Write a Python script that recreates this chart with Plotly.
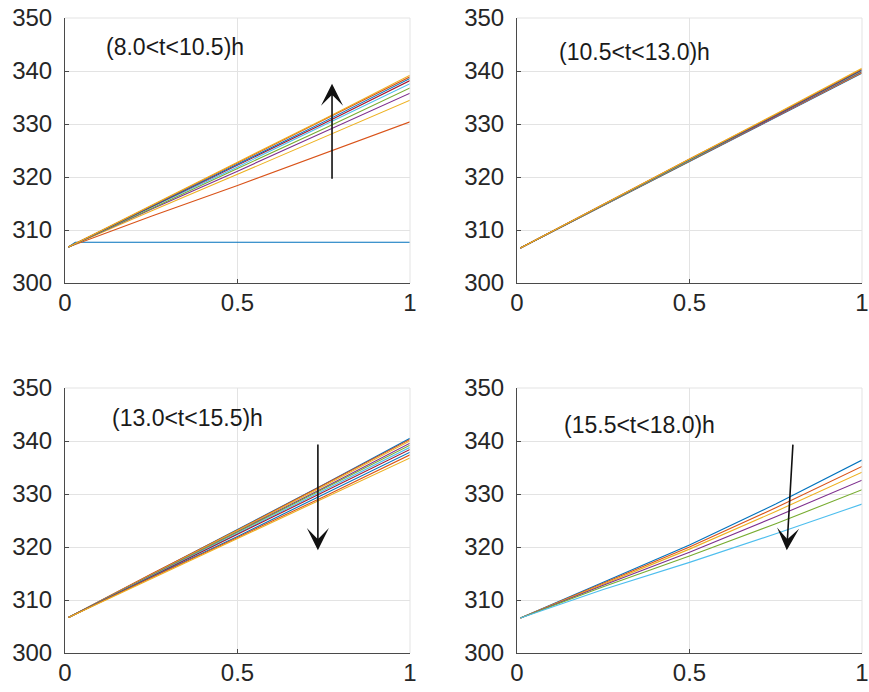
import plotly.graph_objects as go

# MATLAB default colour order
C_BLUE = "#0072BD"
C_RED = "#D95319"
C_YEL = "#EDB120"
C_PUR = "#7E2F8E"
C_GRN = "#77AC30"
C_CYN = "#4DBEEE"
C_DRD = "#A2142F"
colour_order = [C_BLUE, C_RED, C_YEL, C_PUR, C_GRN, C_CYN, C_DRD]

x_pts = [0.01, 0.25, 0.5, 0.75, 1.0]

# Panel 1: (8.0<t<10.5)h
p1_flat_x = [0.01, 0.03, 1.0]
p1_flat_y = [306.8, 307.7, 307.7]
p1_lines = [
    [306.8, 312.6, 318.4, 324.4, 330.4],
    [306.8, 313.6, 320.5, 327.5, 334.5],
    [306.8, 313.9, 321.1, 328.4, 335.8],
    [306.8, 314.1, 321.6, 329.1, 336.8],
    [306.8, 314.3, 321.9, 329.7, 337.6],
    [306.8, 314.4, 322.2, 330.1, 338.2],
    [306.8, 314.5, 322.4, 330.4, 338.6],
    [306.8, 314.6, 322.6, 330.7, 338.9],
    [306.8, 314.7, 322.8, 330.9, 339.2],
]

# Panel 2: (10.5<t<13.0)h
p2_lines = [
    [306.6, 314.6, 323.0, 331.2, 339.6],
    [306.6, 314.6, 323.0, 331.3, 339.7],
    [306.6, 314.7, 323.1, 331.4, 339.8],
    [306.6, 314.7, 323.1, 331.4, 339.9],
    [306.6, 314.7, 323.2, 331.5, 340.0],
    [306.6, 314.8, 323.2, 331.6, 340.1],
    [306.6, 314.8, 323.3, 331.6, 340.2],
    [306.6, 314.8, 323.3, 331.7, 340.3],
    [306.6, 314.9, 323.4, 331.8, 340.4],
    [306.6, 314.9, 323.4, 331.9, 340.5],
]

# Panel 3: (13.0<t<15.5)h
p3_lines = [
    [306.7, 314.9, 323.3, 331.8, 340.5],
    [306.7, 314.9, 323.2, 331.7, 340.3],
    [306.7, 314.8, 323.1, 331.5, 340.0],
    [306.7, 314.7, 322.9, 331.2, 339.6],
    [306.7, 314.6, 322.7, 330.9, 339.2],
    [306.7, 314.5, 322.5, 330.6, 338.8],
    [306.7, 314.4, 322.3, 330.3, 338.4],
    [306.7, 314.3, 322.0, 329.9, 337.9],
    [306.7, 314.2, 321.8, 329.5, 337.4],
    [306.7, 314.0, 321.5, 329.1, 336.8],
]

# Panel 4: (15.5<t<18.0)h
p4_lines = [
    [306.6, 313.3, 320.4, 328.1, 336.4],
    [306.6, 313.2, 320.0, 327.4, 335.2],
    [306.6, 313.0, 319.6, 326.7, 334.1],
    [306.6, 312.8, 319.0, 325.7, 332.6],
    [306.6, 312.5, 318.3, 324.4, 330.8],
    [306.6, 312.0, 317.1, 322.5, 328.1],
]

panel_labels = ["(8.0<t<10.5)h", "(10.5<t<13.0)h", "(13.0<t<15.5)h", "(15.5<t<18.0)h"]
label_pos = [(0.113, 344.5), (0.115, 343.6), (0.13, 344.3), (0.129, 343.0)]
# arrows: (tip_x, tip_y, tail_x, tail_y)
arrows = {
    1: (0.774, 337.6, 0.774, 319.4),
    3: (0.733, 319.4, 0.733, 339.6),
    4: (0.782, 319.4, 0.80, 339.6),
}

x_ticks = [0, 0.5, 1]
x_tick_text = ["0", "0.5", "1"]
y_ticks = [300, 310, 320, 330, 340, 350]

W, H = 869, 692
FONT = "Arial, 'Liberation Sans', sans-serif"

fig = go.Figure()

panels = [
    ("x", "y", [(p1_flat_x, p1_flat_y)] + [(x_pts, v) for v in p1_lines]),
    ("x2", "y2", [(x_pts, v) for v in p2_lines]),
    ("x3", "y3", [(x_pts, v) for v in p3_lines]),
    ("x4", "y4", [(x_pts, v) for v in p4_lines]),
]

for xa, ya, series in panels:
    for i, (xs, ys) in enumerate(series):
        fig.add_trace(go.Scatter(
            x=xs, y=ys, mode="lines", xaxis=xa, yaxis=ya,
            line=dict(color=colour_order[i % 7], width=1.1),
            showlegend=False, hoverinfo="skip"))

# domains in screen pixels
xdom = [(65, 410), (517, 862)]
ydom = [(18, 283), (388, 653)]

def fx(p):
    return p / W

def fy(p):
    return 1 - p / H

axis_common = dict(
    showgrid=True, gridcolor="#e3e3e3", gridwidth=1,
    showline=True, linecolor="#4a4a4a", linewidth=1,
    ticks="inside", ticklen=4, tickcolor="#4a4a4a",
    zeroline=False, automargin=False, ticklabeloverflow="allow",
)

layout = dict(
    width=W, height=H,
    margin=dict(l=0, r=0, t=0, b=0),
    paper_bgcolor="white", plot_bgcolor="white",
    template="none",
)

names = [("xaxis", "yaxis"), ("xaxis2", "yaxis2"), ("xaxis3", "yaxis3"), ("xaxis4", "yaxis4")]
for k, (xn, yn) in enumerate(names):
    col = k % 2
    row = k // 2
    xd = xdom[col]
    yd = ydom[row]
    anchor_x = "y" if k == 0 else f"y{k+1}"
    anchor_y = "x" if k == 0 else f"x{k+1}"
    layout[xn] = dict(axis_common, domain=[fx(xd[0]), fx(xd[1])], range=[0, 1],
                      tickvals=x_ticks, ticktext=x_tick_text, anchor=anchor_x,
                      ticklabelstandoff=-2,
                      tickfont=dict(family=FONT, size=24, color="#262626"))
    layout[yn] = dict(axis_common, domain=[fy(yd[1]), fy(yd[0])], range=[300, 350],
                      tickvals=y_ticks, anchor=anchor_y, ticklabelstandoff=7,
                      tickfont=dict(family=FONT, size=24, color="#262626"))

fig.update_layout(**layout)

# top / right box in light grey (grid colour)
for k in range(4):
    col = k % 2
    row = k // 2
    xd = xdom[col]
    yd = ydom[row]
    fig.add_shape(type="line", xref="paper", yref="paper",
                  x0=fx(xd[0]), x1=fx(xd[1]), y0=fy(yd[0]), y1=fy(yd[0]),
                  line=dict(color="#e3e3e3", width=1))
    fig.add_shape(type="line", xref="paper", yref="paper",
                  x0=fx(xd[1]), x1=fx(xd[1]), y0=fy(yd[0]), y1=fy(yd[1]),
                  line=dict(color="#e3e3e3", width=1))

for k, txt in enumerate(panel_labels):
    xr = "x" if k == 0 else f"x{k+1}"
    yr = "y" if k == 0 else f"y{k+1}"
    fig.add_annotation(x=label_pos[k][0], y=label_pos[k][1], xref=xr, yref=yr,
                       text=txt, showarrow=False, xanchor="left", yanchor="middle",
                       font=dict(family=FONT, size=23, color="#1a1a1a"))

for k, (tx, ty, sx, sy) in arrows.items():
    xr = "x" if k == 1 else f"x{k}"
    yr = "y" if k == 1 else f"y{k}"
    fig.add_annotation(x=tx, y=ty, ax=sx, ay=sy, xref=xr, yref=yr,
                       axref=xr, ayref=yr, text="", showarrow=True,
                       arrowhead=3, arrowsize=2.3, arrowwidth=1.6,
                       arrowcolor="#111111")

fig.write_html(
    "out.html",
    config={"displayModeBar": False},
    post_script="document.body.style.margin='0';document.body.style.overflow='hidden';",
)
